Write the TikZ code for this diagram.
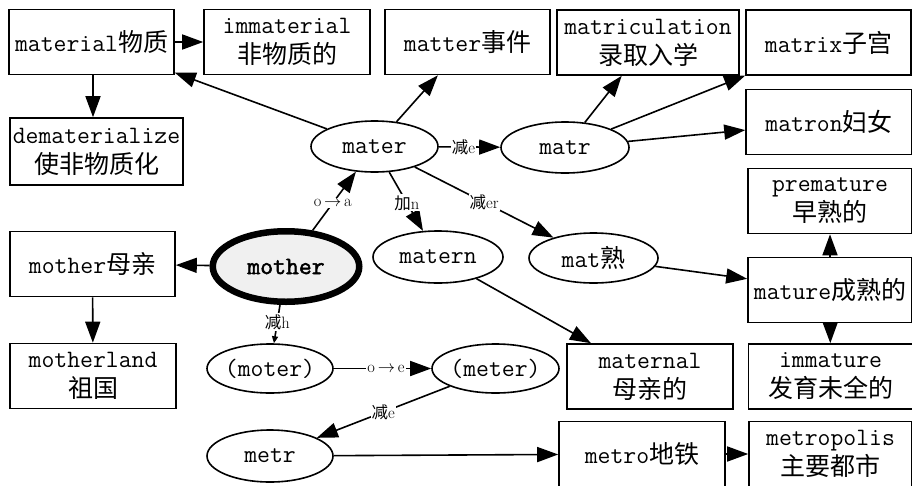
\documentclass[tikz,border=0pt]{standalone}
\usepackage{fontspec}
\setmonofont{Latin Modern Mono}
\newfontfamily\cjkf{Noto Sans CJK SC}
\newfontfamily\monobold[FakeBold=2]{Latin Modern Mono}
\usetikzlibrary{shapes.geometric,arrows.meta}
\newcommand\zh[1]{{\cjkf #1}}
\newcommand\bigtxt{\fontsize{25}{30}\selectfont\ttfamily}
\newcommand\labtxt{\fontsize{16.5}{18}\selectfont\rmfamily}
\begin{document}
\begin{tikzpicture}[x=1pt,y=-1pt,
  box/.style={draw, line width=1.6pt, minimum width=166pt, minimum height=65pt, inner sep=1pt, align=center, font=\bigtxt},
  ell/.style={draw, ellipse, line width=1.6pt, inner sep=0pt, font=\bigtxt},
  lab/.style={fill=white, inner sep=1pt, font=\labtxt},
  arr/.style={line width=1.6pt, -{Triangle[length=21pt,width=15pt]}},
  sarr/.style={line width=1.6pt, -{Triangle[length=7pt,width=6pt]}}]
\useasboundingbox (0,0) rectangle (912,485);
% boxes
\node[box, minimum width=165pt] (material) at (91.5,42) {material\zh{物质}};
\node[box] (immaterial) at (287,42) {immaterial\\\zh{非物质的}};
\node[box, minimum width=165pt] (matter) at (467.5,42) {matter\zh{事件}};
\node[box, minimum width=182pt] (matric) at (648,42.5) {matriculation\\\zh{录取入学}};
\node[box, minimum width=165pt] (matrix) at (828.5,42.5) {matrix\zh{子宫}};
\node[box] (matron) at (829,122) {matron\zh{妇女}};
\node[box, minimum width=173pt, minimum height=67pt] (demat) at (96.5,151.5) {dematerialize\\\zh{使非物质化}};
\node[box, minimum width=164pt] (premature) at (830,201) {premature\\\zh{早熟的}};
\node[box, minimum width=164pt] (mature) at (830,290) {mature\zh{成熟的}};
\node[box, minimum width=165pt] (mothercn) at (92.5,264) {mother\zh{母亲}};
\node[box] (motherland) at (93,376) {motherland\\\zh{祖国}};
\node[box] (maternal) at (650,376.5) {maternal\\\zh{母亲的}};
\node[box, minimum width=164pt] (immature) at (830.5,376.5) {immature\\\zh{发育未全的}};
\node[box] (metro) at (642,454) {metro\zh{地铁}};
\node[box, minimum width=163pt] (metropolis) at (830.5,454) {metropolis\\\zh{主要都市}};
% ellipses
\node[ell, minimum width=127pt, minimum height=51pt] (mater) at (374.5,146.5) {mater};
\node[ell, minimum width=128pt, minimum height=51pt] (matr) at (565,147.5) {matr};
\node[ell, line width=6.5pt, fill=gray!12, minimum width=146.5pt, minimum height=70.5pt, font=\fontsize{25}{30}\selectfont\monobold] (mother) at (286,266.5) {mother};
\node[ell, minimum width=130pt, minimum height=52pt] (matern) at (438,257) {matern};
\node[ell, minimum width=129pt, minimum height=50pt] (mat) at (593.5,258) {mat\zh{熟}};
\node[ell, inner xsep=-2pt, minimum width=126pt, minimum height=49pt] (moter) at (270,368.5) {(moter)};
\node[ell, inner xsep=-2pt, minimum width=127pt, minimum height=49pt] (meter) at (495.5,368.5) {(meter)};
\node[ell, minimum width=126pt, minimum height=52pt] (metr) at (270,456) {metr};
% edges
\draw[arr] (material) -- (immaterial);
\draw[arr] ([xshift=1.5pt]material.south) -- ([xshift=1.5pt]material.south |- demat.north);
\draw[arr] (mater) -- (material);
\draw[arr] (mater) -- (matter);
\draw[arr] (mater) -- node[lab,pos=0.4]{\zh{减}e} (matr);
\draw[arr] (matr) -- (matric);
\draw[arr] (matr) -- (matrix);
\draw[arr] (matr) -- (matron);
\draw[arr] (mater) -- node[lab,pos=0.525]{\zh{加}n} (matern);
\draw[arr] (mater) -- node[lab,pos=0.5]{\zh{减}er} (mat);
\draw[arr] (mother) -- node[lab,pos=0.466]{o\,$\to$\,a} (mater);
\draw[arr] (mother) -- (mothercn);
\draw[arr] (mothercn) -- (motherland);
\draw[sarr] (mother) -- node[lab,pos=0.445]{\zh{减}h} (moter);
\draw[arr] (moter) -- node[lab,pos=0.536]{o\,$\to$\,e} (meter);
\draw[arr] (meter) -- node[lab,pos=0.5]{\zh{减}e} (metr);
\draw[arr] (metr) -- (metro);
\draw[arr] (metro) -- (metropolis);
\draw[arr] (matern) -- (maternal);
\draw[arr] (mat) -- (mature);
\draw[arr] (mature) -- (premature);
\draw[arr] (mature) -- (immature);
\end{tikzpicture}
\end{document}
